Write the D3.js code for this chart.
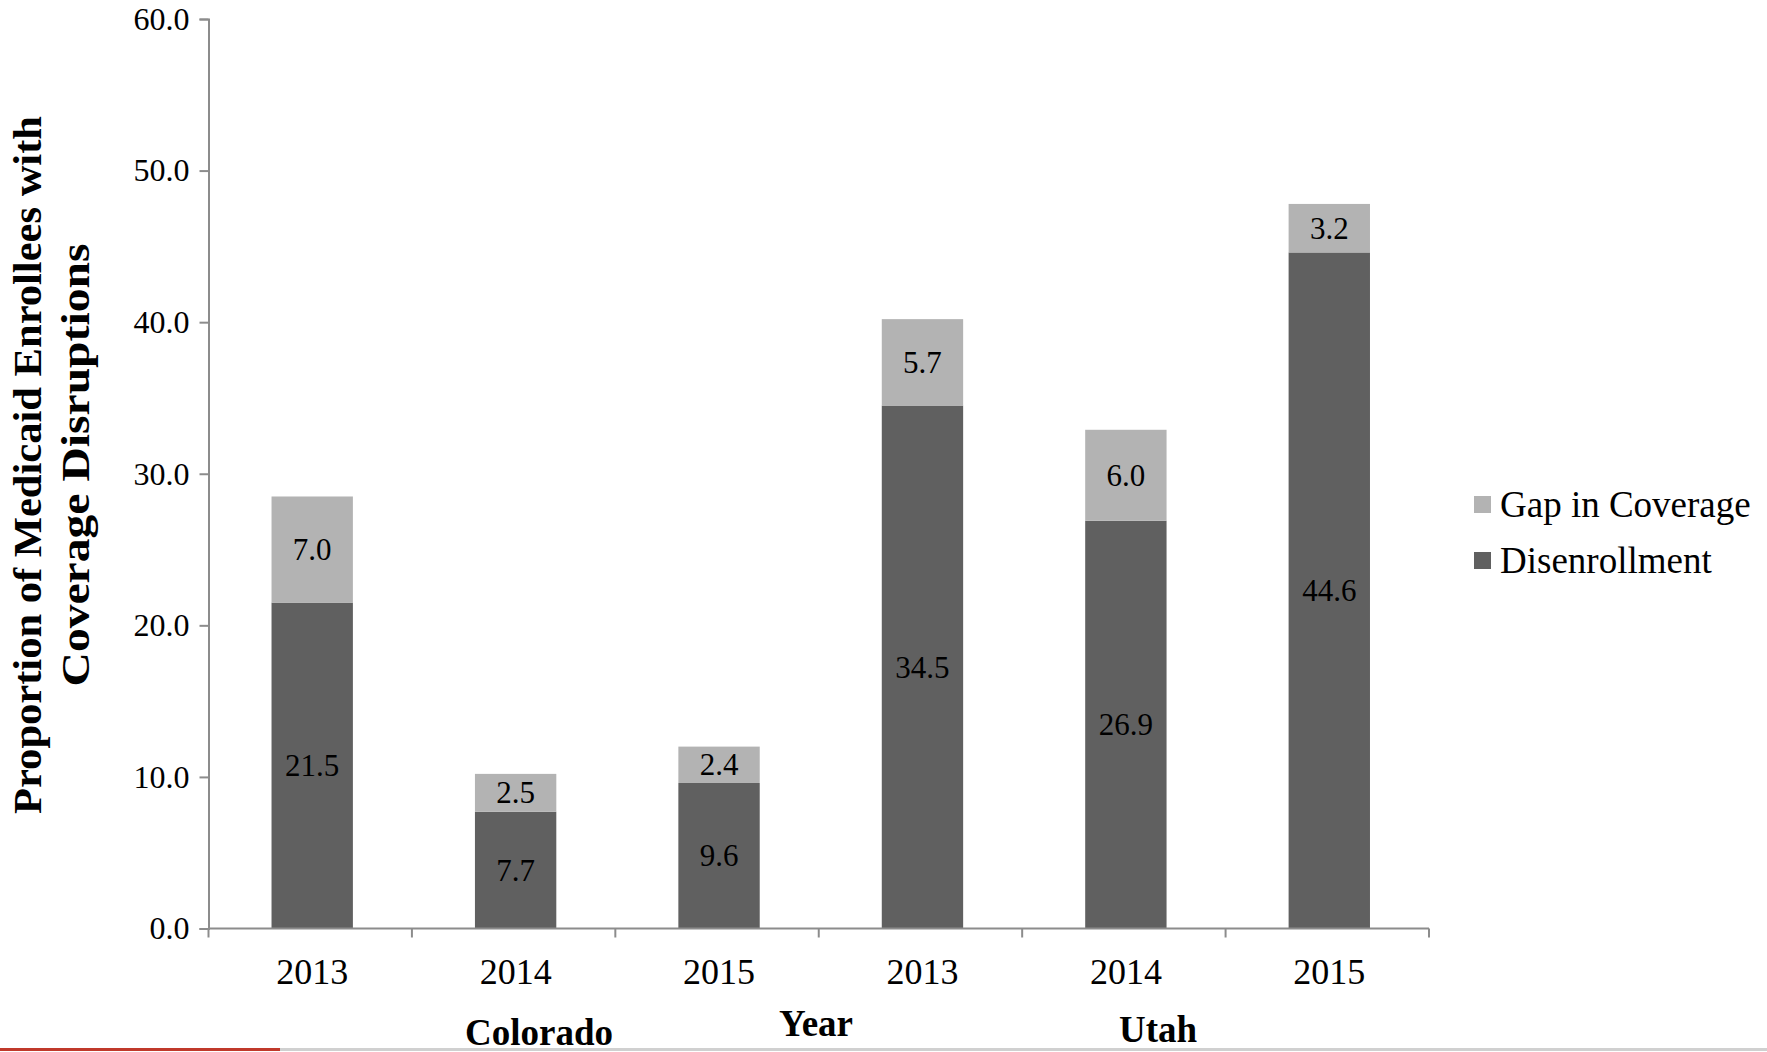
<!DOCTYPE html>
<html>
<head>
<meta charset="utf-8">
<script src="https://cdn.jsdelivr.net/npm/d3@7"></script>
<style>
  body { margin: 0; background: #fff; }
  svg { display: block; }
  svg text { font-family: "Liberation Serif", "Times New Roman", serif; }
</style>
</head>
<body>
<svg id="chart" width="1767" height="1052"></svg>
<script>
// chart data
var years = ["2013", "2014", "2015", "2013", "2014", "2015"];
var states = ["Colorado", "Colorado", "Colorado", "Utah", "Utah", "Utah"];
var disenrollment = [21.5, 7.7, 9.6, 34.5, 26.9, 44.6];
var gapInCoverage = [7.0, 2.5, 2.4, 5.7, 6.0, 3.2];
var yTicks = [0, 10, 20, 30, 40, 50, 60];
var seriesNames = ["Gap in Coverage", "Disenrollment"];
var seriesColors = ["#b3b3b3", "#606060"];

var svg = d3.select("#chart");
var plotLeft = 208.5, plotRight = 1429, plotTop = 19, plotBottom = 928.5;

var x = d3.scaleBand()
    .domain(d3.range(years.length))
    .range([plotLeft, plotRight])
    .paddingInner(0.6)
    .paddingOuter(0.3);

var y = d3.scaleLinear().domain([0, 60]).range([plotBottom, plotTop]);

var rows = years.map(function (yr, i) {
  return { idx: i, year: yr, state: states[i], dis: disenrollment[i], gap: gapInCoverage[i] };
});

var stack = d3.stack().keys(["dis", "gap"])(rows);
var colorFor = { dis: seriesColors[1], gap: seriesColors[0] };

// bars
var layer = svg.selectAll("g.layer").data(stack).enter()
  .append("g").attr("class", "layer")
  .attr("fill", function (d) { return colorFor[d.key]; });

layer.selectAll("rect").data(function (d) { return d; }).enter()
  .append("rect")
  .attr("x", function (d) { return x(d.data.idx) + 2; })
  .attr("y", function (d) { return y(d[1]); })
  .attr("width", x.bandwidth())
  .attr("height", function (d) { return y(d[0]) - y(d[1]); });

// value labels
layer.selectAll("text").data(function (d) { return d; }).enter()
  .append("text")
  .attr("x", function (d) { return x(d.data.idx) + 2 + x.bandwidth() / 2; })
  .attr("y", function (d) { return (y(d[0]) + y(d[1])) / 2; })
  .attr("text-anchor", "middle")
  .attr("dominant-baseline", "central")
  .attr("fill", "#000")
  .style("font-size", "31px")
  .text(function (d) { return (d[1] - d[0]).toFixed(1); });

// y axis
var yAxis = svg.append("g")
  .attr("transform", "translate(" + plotLeft + ",0)")
  .call(d3.axisLeft(y).tickValues(yTicks).tickSize(9).tickPadding(10)
        .tickFormat(function (d) { return d.toFixed(1); }));
yAxis.attr("font-family", null);

// x axis: ticks between categories
var xAxis = svg.append("g").attr("transform", "translate(0," + plotBottom + ")");
var step = (plotRight - plotLeft) / years.length;
xAxis.append("line")
  .attr("x1", plotLeft).attr("x2", plotRight).attr("y1", 0).attr("y2", 0);
xAxis.selectAll("line.tk").data(d3.range(years.length + 1)).enter()
  .append("line").attr("class", "tk")
  .attr("x1", function (d) { return plotLeft + d * step; })
  .attr("x2", function (d) { return plotLeft + d * step; })
  .attr("y1", 0).attr("y2", 9);
xAxis.selectAll("text").data(rows).enter()
  .append("text")
  .attr("x", function (d) { return x(d.idx) + 2 + x.bandwidth() / 2; })
  .attr("y", 43)
  .attr("text-anchor", "middle")
  .attr("dominant-baseline", "central")
  .style("font-size", "36px")
  .text(function (d) { return d.year; });

svg.selectAll(".domain, line").attr("stroke", "#8c8c8c").attr("stroke-width", 2);
yAxis.selectAll("text").style("font-size", "32px").attr("fill", "#000");

// group labels
svg.append("text").attr("x", 539).attr("y", 1032)
  .attr("text-anchor", "middle").attr("dominant-baseline", "central")
  .style("font-size", "37px").style("font-weight", "bold").text("Colorado");
svg.append("text").attr("x", 1158).attr("y", 1029)
  .attr("text-anchor", "middle").attr("dominant-baseline", "central")
  .style("font-size", "37px").style("font-weight", "bold").text("Utah");
svg.append("text").attr("x", 816).attr("y", 1023)
  .attr("text-anchor", "middle").attr("dominant-baseline", "central")
  .style("font-size", "37px").style("font-weight", "bold").text("Year");

// y axis title
var yTitle = svg.append("text")
  .attr("transform", "translate(0,465) rotate(-90)")
  .attr("text-anchor", "middle")
  .style("font-size", "40px").style("font-weight", "bold");
yTitle.append("tspan").attr("x", 0).attr("y", 41)
  .attr("textLength", 698).attr("lengthAdjust", "spacingAndGlyphs")
  .text("Proportion of Medicaid Enrollees with");
yTitle.append("tspan").attr("x", 0).attr("y", 89)
  .attr("textLength", 443).attr("lengthAdjust", "spacingAndGlyphs")
  .text("Coverage Disruptions");

// legend
var legend = svg.append("g").attr("transform", "translate(1474,0)");
var legendY = [504, 560];
seriesNames.forEach(function (name, i) {
  legend.append("rect").attr("x", 0).attr("y", legendY[i] - 8)
    .attr("width", 17).attr("height", 17).attr("fill", seriesColors[i]);
  legend.append("text").attr("x", 26).attr("y", legendY[i])
    .attr("dominant-baseline", "central")
    .style("font-size", "37px").text(name);
});

// slide footer rule
svg.append("rect").attr("x", 0).attr("y", 1048).attr("width", 1767).attr("height", 3).attr("fill", "#d0d0d0");
svg.append("rect").attr("x", 0).attr("y", 1048).attr("width", 280).attr("height", 3).attr("fill", "#c0392b");
</script>
</body>
</html>
